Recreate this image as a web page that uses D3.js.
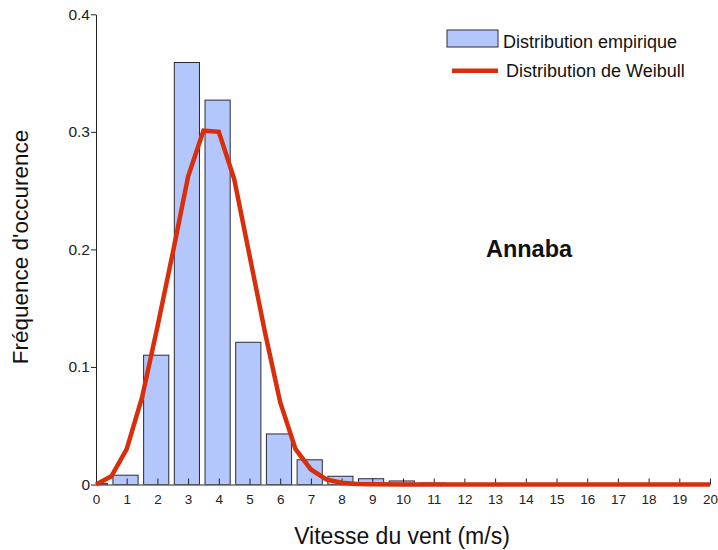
<!DOCTYPE html>
<html>
<head>
<meta charset="utf-8">
<script src="https://cdn.jsdelivr.net/npm/d3@7"></script>
<style>
  body { margin: 0; background: #fff; }
  svg { display: block; font-family: "Liberation Sans", Arial, sans-serif; }
</style>
</head>
<body>
<svg id="chart" width="718" height="550"></svg>
<script>
// Empirical distribution (bars)
const speeds = [0, 1, 2, 3, 4, 5, 6, 7, 8, 9, 10, 11, 12];
const empirique = [0.001, 0.0079, 0.110, 0.359, 0.327, 0.121, 0.043, 0.021, 0.0070, 0.0049, 0.0030, 0.0012, 0.0008];
// Weibull curve points
const weibullX = [0, 0.5, 1, 1.5, 2, 2.5, 3, 3.5, 4, 4.5, 5, 5.5, 6, 6.5, 7, 7.5, 8, 8.5, 9, 10, 12, 14, 16, 18, 20];
const weibullY = [0, 0.007, 0.030, 0.074, 0.134, 0.197, 0.262, 0.301, 0.300, 0.260, 0.195, 0.130, 0.070, 0.030, 0.0128, 0.0043, 0.0015, 0.0005, 0.0002, 0, 0, 0, 0, 0, 0];
// Ticks
const xTicks = d3.range(0, 21, 1);
const yTicks = [0, 0.1, 0.2, 0.3, 0.4];
const yTickLabels = ["0", "0.1", "0.2", "0.3", "0.4"];

const svg = d3.select("#chart");
const margin = {left: 96, right: 8, top: 14.3, bottom: 65.5};
const W = 718, H = 550;

const x = d3.scaleLinear().domain([0, 20]).range([margin.left, W - margin.right]);
const y = d3.scaleLinear().domain([0, 0.4]).range([H - margin.bottom, margin.top]);

svg.append("defs").append("clipPath").attr("id", "plotclip")
  .append("rect").attr("x", margin.left).attr("y", 0)
  .attr("width", W - margin.right - margin.left + 2).attr("height", H - margin.bottom);

const barW = x(0.82) - x(0);
svg.append("g").attr("clip-path", "url(#plotclip)")
  .selectAll("rect").data(speeds).enter().append("rect")
  .attr("x", (d) => x(d) - barW / 2 - 1.2)
  .attr("y", (d, i) => y(empirique[i]))
  .attr("width", barW)
  .attr("height", (d, i) => y(0) - y(empirique[i]))
  .attr("fill", "#b3c7fc")
  .attr("stroke", "#2a2a33")
  .attr("stroke-width", 1);

// Axes
const yAxis = d3.axisLeft(y).tickValues(yTicks).tickFormat((d, i) => yTickLabels[i]).tickSizeInner(5).tickSizeOuter(0).tickPadding(1);
const gy = svg.append("g").attr("transform", `translate(${margin.left},0)`).call(yAxis);
gy.selectAll("text").attr("font-size", 15.5).attr("fill", "#222").attr("font-family", "Liberation Sans, Arial, sans-serif");
gy.selectAll("line, path").attr("stroke", "#222");

const xAxis = d3.axisBottom(x).tickValues(xTicks).tickFormat(d3.format("d")).tickSizeInner(-6).tickSizeOuter(0).tickPadding(5);
const gx = svg.append("g").attr("transform", `translate(0,${y(0)})`).call(xAxis);
gx.selectAll("text").attr("font-size", 13.5).attr("fill", "#222").attr("font-family", "Liberation Sans, Arial, sans-serif").attr("dy", "0.71em").attr("y", 10);
gx.selectAll("line, path").attr("stroke", "#222");

// Weibull line
const line = d3.line().x((d, i) => x(weibullX[i])).y((d, i) => y(weibullY[i]));
svg.append("path").datum(weibullX)
  .attr("d", line)
  .attr("fill", "none")
  .attr("stroke", "#d92e0b")
  .attr("stroke-width", 4.5)
  .attr("stroke-linejoin", "miter");

// Axis titles
svg.append("text").attr("x", 402).attr("y", 544).attr("text-anchor", "middle")
  .attr("font-size", 23).attr("fill", "#111").text("Vitesse du vent (m/s)");
svg.append("text").attr("transform", "translate(28,247) rotate(-90)").attr("text-anchor", "middle")
  .attr("font-size", 22.5).attr("fill", "#111").text("Fréquence d'occurence");

// Annotation
svg.append("text").attr("x", 529).attr("y", 257).attr("text-anchor", "middle")
  .attr("font-size", 23.5).attr("font-weight", "bold").attr("fill", "#111").text("Annaba");

// Legend
svg.append("rect").attr("x", 447).attr("y", 30).attr("width", 51).attr("height", 17)
  .attr("fill", "#b3c7fc").attr("stroke", "#2a2a33").attr("stroke-width", 1);
svg.append("text").attr("x", 503).attr("y", 48).attr("font-size", 18).attr("fill", "#111").text("Distribution empirique");
svg.append("line").attr("x1", 452).attr("x2", 498).attr("y1", 70.7).attr("y2", 70.7)
  .attr("stroke", "#d92e0b").attr("stroke-width", 4.5);
svg.append("text").attr("x", 506).attr("y", 77).attr("font-size", 18).attr("fill", "#111").text("Distribution de Weibull");
</script>
</body>
</html>
